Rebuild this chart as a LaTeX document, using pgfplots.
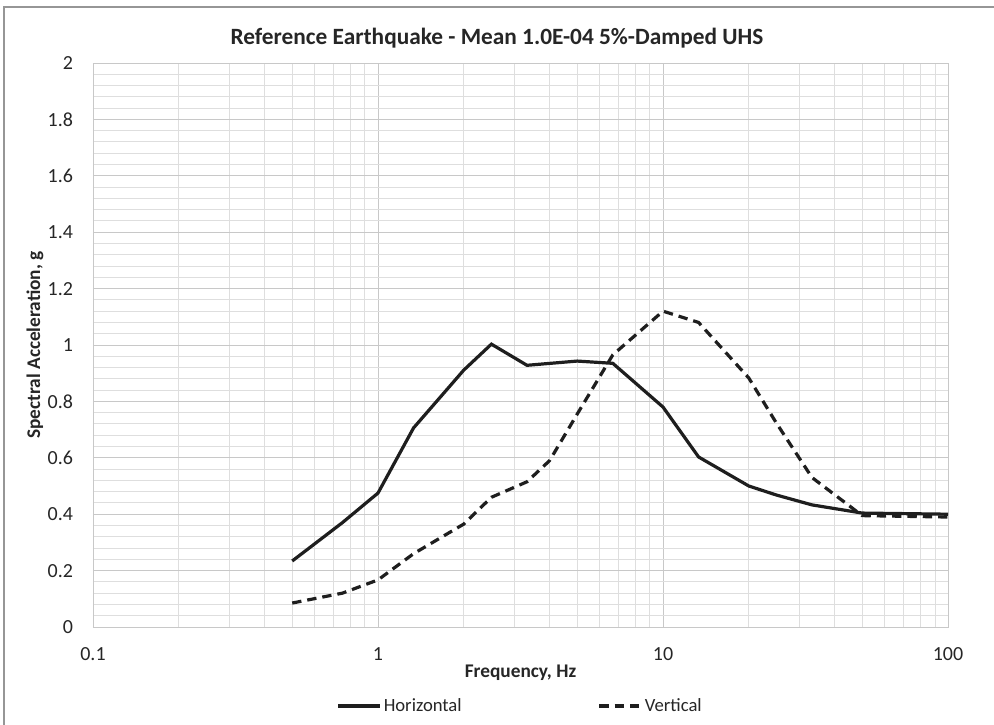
\documentclass[border=0pt]{standalone}
\usepackage{pgfplots}
\pgfplotsset{compat=1.18}
\usepackage{fontspec}
\setmainfont{Carlito}
\definecolor{majgrid}{RGB}{200,200,200}
\definecolor{mingrid}{RGB}{222,222,222}
\definecolor{curve}{RGB}{30,30,30}
\definecolor{frame}{RGB}{150,150,150}
\begin{document}
\begin{tikzpicture}
\path[use as bounding box] (0pt,0pt) rectangle (745.5pt,543pt);
\draw[frame,line width=0.9pt] (3pt,-15pt) -- (3pt,537.75pt) -- (760pt,537.75pt);
\node[font=\bfseries\fontsize{17.5}{20}\selectfont, text=black!85] at (372.75pt,514.5pt) {Reference Earthquake - Mean 1.0E-04 5\%-Damped UHS};
\begin{axis}[
  at={(69.75pt,72.75pt)}, anchor=south west,
  scale only axis, width=641.25pt, height=423pt,
  xmode=log, xmin=0.1, xmax=100, ymin=0, ymax=2,
  log basis x=10,
  xtick={0.1,1,10,100}, xticklabels={0.1,1,10,100},
  ytick={0,0.2,0.4,0.6,0.8,1,1.2,1.4,1.6,1.8,2},
  yticklabels={0,0.2,0.4,0.6,0.8,1,1.2,1.4,1.6,1.8,2},
  minor ytick={0.04,0.08,0.12,0.16,0.24,0.28,0.32,0.36,0.44,0.48,0.52,0.56,0.64,0.68,0.72,0.76,0.84,0.88,0.92,0.96,1.04,1.08,1.12,1.16,1.24,1.28,1.32,1.36,1.44,1.48,1.52,1.56,1.64,1.68,1.72,1.76,1.84,1.88,1.92,1.96},
  minor xtick={0.2,0.3,0.4,0.5,0.6,0.7,0.8,0.9,2,3,4,5,6,7,8,9,20,30,40,50,60,70,80,90},
  grid=both,
  major grid style={majgrid, line width=0.7pt},
  minor grid style={mingrid, line width=0.7pt},
  axis line style={majgrid, line width=0.7pt},
  tick style={draw=none},
  /pgf/number format/assume math mode=true,
  ticklabel style={font=\fontsize{15}{17}\selectfont, text=black!85},
  xticklabel style={anchor=center, yshift=-20.5pt},
  yticklabel style={anchor=east, xshift=-11.5pt},
  xlabel={Frequency, Hz},
  ylabel={Spectral Acceleration, g},
  label style={font=\bfseries\fontsize{14.5}{16}\selectfont, text=black!85},
  xlabel style={at={(axis description cs:0.5,-0.0816)}, anchor=center},
  ylabel style={at={(axis description cs:-0.068,0.5)}, anchor=center},
  legend columns=2,
  legend style={at={(axis description cs:0.5,-0.140)}, anchor=center, draw=none, fill=none,
    font=\fontsize{14}{16}\selectfont, text=black!85,
    /tikz/every even column/.append style={column sep=100pt}},
  legend image code/.code={\draw[#1] (0pt,0pt) -- (31pt,0pt);},
  legend cell align=left,
]
\addplot[curve, line width=2.4pt] coordinates {
(0.5,0.234) (0.75,0.37) (1,0.475) (1.333,0.706) (2,0.911) (2.5,1.003)
(3.333,0.928) (5,0.943) (6.667,0.935) (10,0.78) (13.33,0.603) (20,0.50)
(25,0.468) (33.33,0.433) (50,0.404) (100,0.40)};
\addlegendentry{Horizontal}
\addplot[curve, line width=2.4pt, dash pattern=on 7pt off 4.5pt] coordinates {
(0.5,0.085) (0.75,0.12) (1,0.167) (1.333,0.26) (2,0.365) (2.5,0.46)
(3.333,0.515) (4,0.59) (5,0.755) (6.667,0.965) (10,1.12) (13.33,1.08)
(20,0.883) (25,0.723) (33.33,0.53) (50,0.395) (100,0.39)};
\addlegendentry{Vertical}
\end{axis}
\end{tikzpicture}
\end{document}
